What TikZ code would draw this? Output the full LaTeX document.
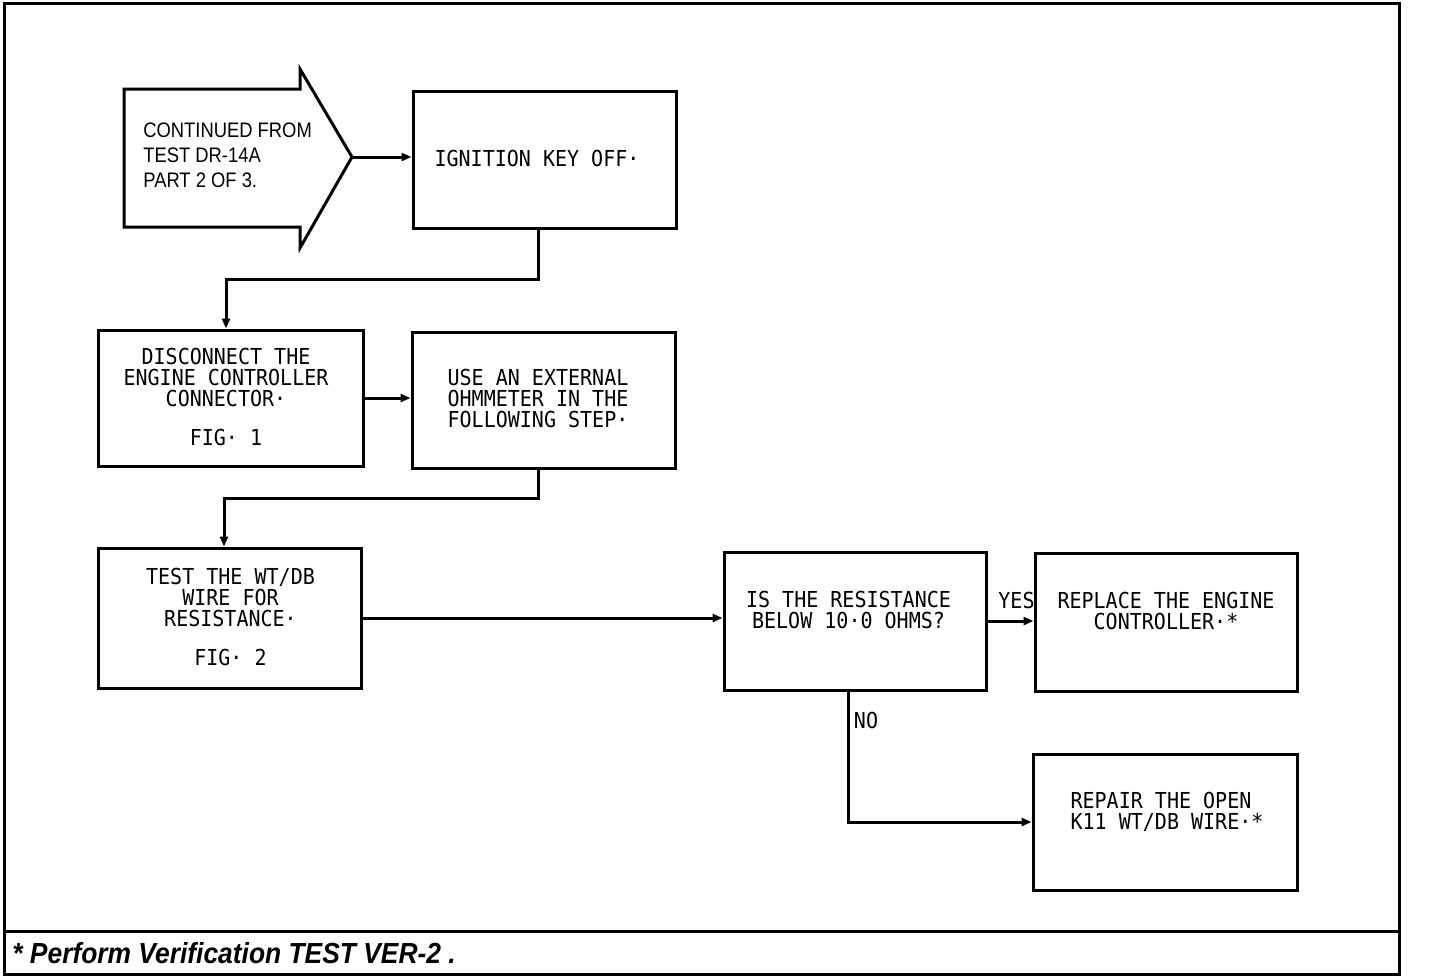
\documentclass[tikz,border=0pt]{standalone}
\usepackage{fontspec}
\usetikzlibrary{arrows.meta,calc}
\newfontfamily\plotfont[FakeStretch=0.91]{DejaVu Sans Mono}
\newfontfamily\arrowfont[FakeStretch=0.875]{Liberation Sans}
\newfontfamily\footfont[FakeStretch=0.91]{Liberation Sans}
\tikzset{
  box/.style={draw, line width=1.5pt, inner sep=0pt},
  plot/.style={font=\plotfont\fontsize{11pt}{10.5pt}\selectfont, align=center, inner sep=0pt},
  wire/.style={line width=1.5pt},
  arr/.style={wire, -{Triangle[length=5pt,width=4pt]}},
}
\begin{document}
\begin{tikzpicture}[x=0.5pt,y=-0.5pt]
\useasboundingbox (0,0) rectangle (1440,976);
% frame and footer
\draw[line width=1.5pt] (4,3) rectangle (1399,974);
\draw[line width=1.5pt] (4,931) -- (1399,931);
\node[font=\footfont\bfseries\itshape\fontsize{14.5pt}{15pt}\selectfont, anchor=base west, inner sep=0pt] (foot) at (12,963) {* Perform Verification TEST VER-2 .};
% start arrow
\draw[line width=1.5pt, line join=miter] (124,89) -- (300,89) -- (300,69) -- (352,157) -- (300,248) -- (300,227) -- (124,227) -- cycle;
\coordinate (starttip) at (352,157);
\node[font=\arrowfont\fontsize{10.5pt}{12.5pt}\selectfont, align=left, anchor=west, inner sep=0pt] (cont) at (143,155.5) {CONTINUED FROM\\TEST DR-14A\\PART 2 OF 3.};
% boxes
\node[box, minimum width=131.5pt, minimum height=68.5pt] (ign) at (544.5,159.5) {};
\node[box, minimum width=132.5pt, minimum height=68pt] (disc) at (230.5,398) {};
\node[box, minimum width=131.5pt, minimum height=68pt] (use) at (543.5,400) {};
\node[box, minimum width=131.5pt, minimum height=70pt] (test) at (229.5,618) {};
\node[box, minimum width=131pt, minimum height=69pt] (is) at (855,621) {};
\node[box, minimum width=131pt, minimum height=69pt] (repl) at (1166,622) {};
\node[box, minimum width=132pt, minimum height=68pt] (rep) at (1165,822) {};
% texts
\node[plot] (ignt) at (537,158) {IGNITION KEY OFF·};
\node[plot] (disct) at (226,397) {DISCONNECT THE\\ENGINE CONTROLLER\\CONNECTOR·\\[9pt]FIG· 1};
\node[plot, align=left] (uset) at (538,398) {USE AN EXTERNAL\\OHMMETER IN THE\\FOLLOWING STEP·};
\node[plot] (testt) at (230.5,617) {TEST THE WT/DB\\WIRE FOR\\RESISTANCE·\\[9pt]FIG· 2};
\node[plot] (ist) at (848.5,610) {IS THE RESISTANCE\\BELOW 10·0 OHMS?};
\node[plot] (replt) at (1166,611) {REPLACE THE ENGINE\\CONTROLLER·*};
\node[plot, align=left] (rept) at (1167,812) {REPAIR THE OPEN\\K11 WT/DB WIRE·*};
\node[plot, anchor=west] (yes) at (998,600) {YES};
\node[plot] (no) at (866,720) {NO};
% connectors
\draw[arr] (starttip) -- (starttip -| ign.west);
\draw[arr] ([xshift=-3.25pt]ign.south) -- ++(0,50) -| ([xshift=-2.25pt]disc.north);
\draw[arr] (disc.east) -- (disc.east -| use.west);
\draw[arr] ([xshift=-2.75pt]use.south) -- ++(0,29) -| ([xshift=-2.75pt]test.north);
\draw[arr] (test.east) -- (test.east -| is.west);
\draw[arr] (is.east) -- (is.east -| repl.west);
\draw[arr] ([xshift=-3.5pt]is.south) |- (rep.west);
\end{tikzpicture}
\end{document}
